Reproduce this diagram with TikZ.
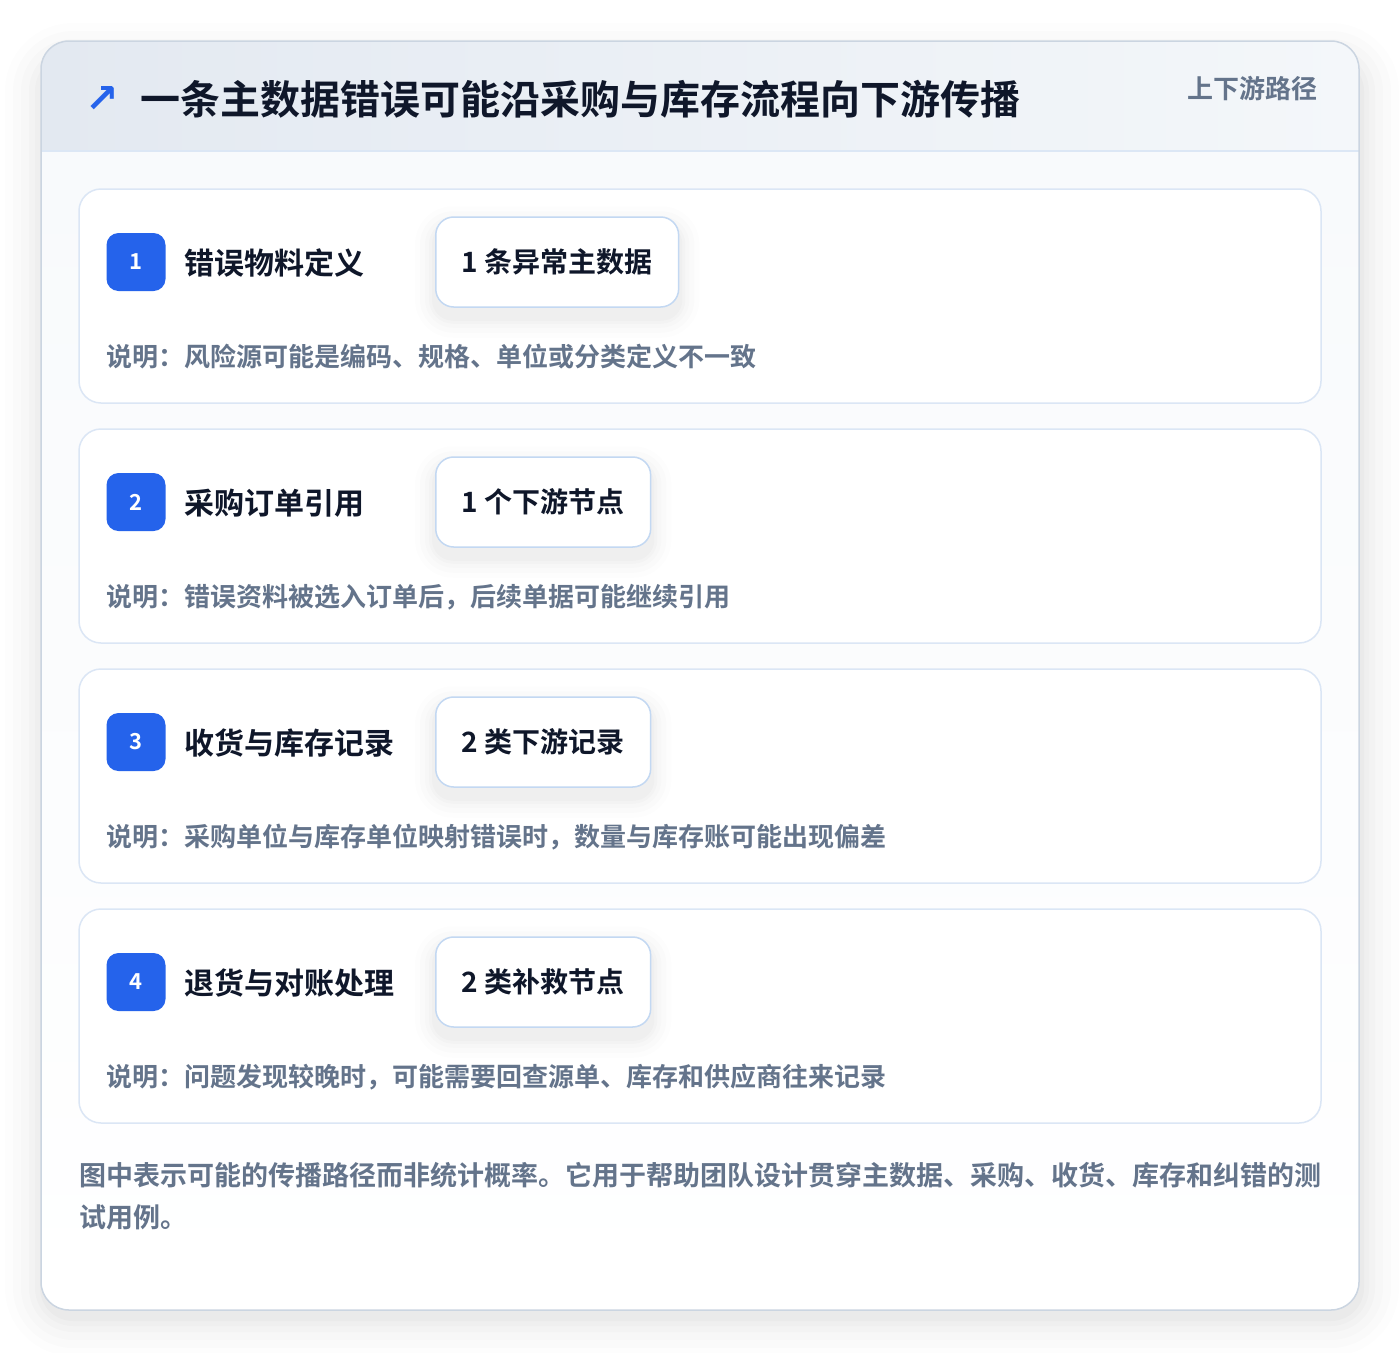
\documentclass[tikz,border=0pt]{standalone}
\usepackage{fontspec}
\setmainfont{Noto Sans CJK SC}[BoldFont={Noto Sans CJK SC Bold}]
\newfontfamily\symfont{DejaVu Sans}
\usetikzlibrary{calc}
\pgfdeclarelayer{cardlayer}
\pgfdeclarelayer{shadowlayer}
\pgfsetlayers{cardlayer,shadowlayer,main}
\definecolor{ink}{HTML}{0F172A}
\definecolor{muted}{HTML}{64748B}
\definecolor{accent}{HTML}{2563EB}
\definecolor{cardline}{HTML}{DBE6F5}
\definecolor{pillline}{HTML}{C3D8F2}
\definecolor{mainline}{HTML}{CBD5E1}
\definecolor{headA}{HTML}{E3E9F1}
\definecolor{headB}{HTML}{F4F7FA}
\definecolor{headline}{HTML}{DCE7F5}
\definecolor{bodytop}{HTML}{F8FAFC}
\tikzset{
  cardbox/.style={draw=cardline, line width=1.5pt, fill=white, rounded corners=22},
  badge/.style={fill=accent, rounded corners=12, minimum width=59, minimum height=58, inner sep=0, text=white, font=\bfseries\fontsize{22}{26}\selectfont},
  steptitle/.style={anchor=west, inner sep=0, text=ink, font=\bfseries\fontsize{30}{36}\selectfont},
  pill/.style={anchor=west, draw=pillline, line width=1.5pt, fill=white, rounded corners=18, minimum height=90, inner xsep=26, text=ink, font=\bfseries\fontsize{28}{32}\selectfont},
  desc/.style={anchor=west, inner sep=0, text=muted, font=\bfseries\fontsize{26}{30}\selectfont},
  foot/.style={anchor=west, inner sep=0, text=muted, font=\bfseries\fontsize{27}{32}\selectfont},
}
\begin{document}
\begin{tikzpicture}[x=1pt,y=-1pt]
\useasboundingbox (0,0) rectangle (1400,1352);
\begin{pgfonlayer}{cardlayer}
% outer soft shadow
\foreach \i/\o in {40/0.008,32/0.010,24/0.012,16/0.014,10/0.016,5/0.02}{
  \fill[black, opacity=\o, rounded corners=28+\i] (41-\i+4,41-\i+22) rectangle (1359+\i,1310+\i+6);
}
% main card
\begin{scope}
  \clip[rounded corners=28] (41,41) rectangle (1359,1310);
  \fill[top color=bodytop, bottom color=white] (41,151) rectangle (1359,1310);
  \fill[left color=headA, right color=headB] (41,41) rectangle (1359,151);
  \draw[headline, line width=2pt] (41,151) -- (1359,151);
\end{scope}
\draw[mainline, line width=1.5pt, rounded corners=28] (41,41) rectangle (1359,1310);
\end{pgfonlayer}
% header
\node[inner sep=0, text=accent, font=\symfont\bfseries\fontsize{40}{44}\selectfont] (icon) at (102,99) {↗};
\node[anchor=west, inner sep=0, text=ink, font=\bfseries\fontsize{40}{48}\selectfont] (title) at (140,99) {一条主数据错误可能沿采购与库存流程向下游传播};
\node[anchor=east, inner sep=0, text=muted, font=\bfseries\fontsize{26}{30}\selectfont] (tag) at (1318,89) {上下游路径};
% cards
\foreach \n/\top/\ttl/\pil/\dsc in {
  1/189/错误物料定义/1 条异常主数据/说明：风险源可能是编码、规格、单位或分类定义不一致,
  2/429/采购订单引用/1 个下游节点/说明：错误资料被选入订单后，后续单据可能继续引用,
  3/669/收货与库存记录/2 类下游记录/说明：采购单位与库存单位映射错误时，数量与库存账可能出现偏差,
  4/909/退货与对账处理/2 类补救节点/说明：问题发现较晚时，可能需要回查源单、库存和供应商往来记录}{
  \begin{pgfonlayer}{cardlayer}
  \draw[cardbox] (79,\top) rectangle (1321,\top+214);
  \end{pgfonlayer}
  \node[badge] (b\n) at (136,\top+73) {\n};
  \node[steptitle] (t\n) at (184,\top+74) {\ttl};
  \node[pill] (p\n) at (435,\top+73) {\pil};
  \begin{pgfonlayer}{shadowlayer}
  \foreach \s/\o in {20/0.008,15/0.010,10/0.012,6/0.014,3/0.016}{
    \fill[black, opacity=\o, rounded corners=18+\s] ($(p\n.north west)+(-\s,-\s+10)$) rectangle ($(p\n.south east)+(\s,\s+10)$);
  }
  \end{pgfonlayer}
  \node[desc] (d\n) at (106,\top+168) {\dsc};
}
% footer
\node[foot] (f1) at (79,1175) {图中表示可能的传播路径而非统计概率。它用于帮助团队设计贯穿主数据、采购、收货、库存和纠错的测};
\node[foot] (f2) at (79,1217) {试用例。};
\end{tikzpicture}
\end{document}
